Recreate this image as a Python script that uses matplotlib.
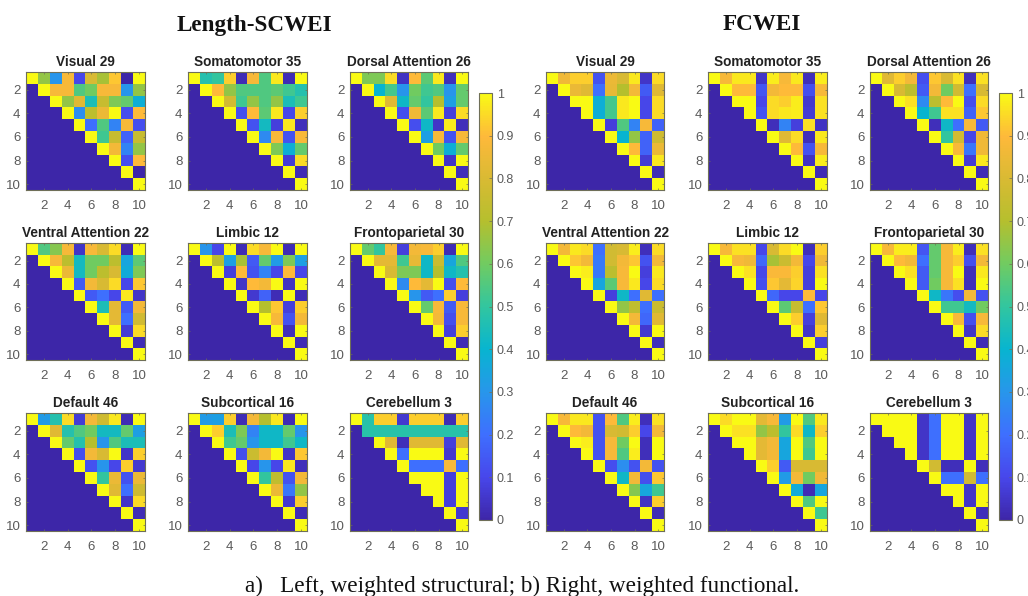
import numpy as np
import matplotlib
matplotlib.use("Agg")
import matplotlib.pyplot as plt
from matplotlib.colors import LinearSegmentedColormap, Normalize
from matplotlib.cm import ScalarMappable

parula_colors = [(0.2422,0.1504,0.6603),(0.2803,0.2782,0.9221),(0.2440,0.4358,0.9988),
                 (0.1540,0.5902,0.9218),(0.0297,0.7082,0.8163),(0.1938,0.7758,0.6251),
                 (0.4420,0.7980,0.3800),(0.7100,0.7500,0.1800),(0.8500,0.7300,0.2000),
                 (0.9970,0.7250,0.2300),(0.9769,0.9839,0.0805)]
parula = LinearSegmentedColormap.from_list("parula", parula_colors)

titles = ["Visual 29","Somatomotor 35","Dorsal Attention 26","Ventral Attention 22","Limbic 12",
          "Frontoparietal 30","Default 46","Subcortical 16","Cerebellum 3"]
ticks = [2,4,6,8,10]
cbar_ticks = [0,.1,.2,.3,.4,.5,.6,.7,.8,.9,1]
cbar_labels = ["0","0.1","0.2","0.3","0.4","0.5","0.6","0.7","0.8","0.9","1"]

# Upper triangles, each row starting at the diagonal
L_visual = [[1,.65,.3,.88,.1,.8,.68,.92,0,1],[1,.88,.88,.55,.6,.88,.88,.3,.65],[1,.65,.82,.45,.75,.62,.58,.38],
 [1,.28,.72,.85,1,.12,.9],[1,.2,.55,.25,.88,.12],[1,.52,.75,.17,.75],[1,.87,.25,.65],[1,.12,.9],[1,0],[1]]
L_somato = [[1,.47,.5,.93,.02,.88,.55,.97,.02,1],[1,.9,.65,.55,.55,.55,.57,.52,.47],[1,.78,.52,.65,.55,.65,.45,.52],
 [1,.12,.9,.57,.97,.1,.93],[1,.13,.43,.08,.97,.03],[1,.27,.88,.13,.88],[1,.62,.38,.58],[1,.07,.95],[1,.02],[1]]
L_dorsal = [[1,.62,.62,.95,.04,.9,.57,.97,.03,1],[1,.4,.53,.3,.6,.52,.55,.3,.58],[1,.82,.42,.58,.5,.7,.33,.58],
 [1,.12,.86,.57,.97,.08,.95],[1,.12,.42,.05,.98,.03],[1,.33,.88,.13,.88],[1,.6,.38,.58],[1,.05,1],[1,.03],[1]]
L_ventral = [[1,.55,.63,.88,.05,.88,.8,.95,.02,1],[1,.88,.72,.43,.6,.6,.72,.35,.57],[1,.85,.43,.6,.72,.8,.37,.62],
 [1,.15,.87,.8,.95,.1,.92],[1,.15,.2,.1,.97,.05],[1,.45,.83,.15,.87],[1,.83,.2,.78],[1,.07,.95],[1,.02],[1]]
L_limbic = [[1,.3,.1,1,.02,.95,.88,1,.02,1],[1,.72,.33,.68,.15,.58,.32,.62,.33],[1,.08,.9,.13,.25,.1,.9,.1],
 [1,.05,.9,.87,1,.04,1],[1,.06,.17,.02,1,.02],[1,.7,.92,.08,.93],[1,.88,.13,.87],[1,.03,1],[1,.02],[1]]
L_fronto = [[1,.58,.5,.88,.08,.87,.88,.93,.02,1],[1,.83,.83,.52,.84,.42,.76,.35,.55],[1,.8,.62,.62,.42,.7,.42,.47],
 [1,.27,.9,.83,1,.12,.9],[1,.3,.15,.2,.93,.08],[1,.58,.88,.15,.88],[1,.87,.12,.88],[1,.08,.93],[1,.02],[1]]
L_default = [[1,.32,.47,.95,.07,.87,.77,.97,.02,1],[1,.82,.47,.55,.6,.43,.43,.58,.33],[1,.58,.47,.7,.3,.55,.45,.45],
 [1,.12,.87,.8,1,.05,.93],[1,.13,.3,.1,.93,.06],[1,.5,.85,.13,.85],[1,.82,.2,.77],[1,.05,.95],[1,.02],[1]]
L_subcort = [[1,.32,.33,.93,.02,.87,.7,.97,.02,1],[1,.93,.45,.62,.25,.42,.42,.58,.3],[1,.52,.58,.3,.42,.42,.52,.42],
 [1,.12,.76,.87,1,.05,.92],[1,.1,.3,.1,.97,.03],[1,.5,.73,.13,.87],[1,.85,.22,.65],[1,.06,.93],[1,.02],[1]]
L_cereb = [[1,.48,.93,.93,.06,.93,.93,.93,.02,.93],[.48,.48,.48,.48,.48,.48,.48,.48,.48],[1,.82,.03,.82,.82,.82,.08,.82],
 [1,.2,1,1,1,.06,1],[1,.2,.2,.2,.88,.2],[1,1,1,.08,1],[1,1,.08,1],[1,.08,1],[1,.06],[1]]

R_visual = [[1,.86,.93,.93,.13,.85,.8,.97,.05,.95],[1,.85,.82,.2,.84,.7,.87,.15,.82],[1,1,.38,.53,.97,1,.1,.95],
 [1,.38,.53,.97,1,.1,.95],[1,.08,.55,.25,.88,.17],[1,.4,.65,.17,.77],[1,.9,.17,.85],[1,.07,.97],[1,.02],[1]]
R_somato = [[1,.88,.97,.97,.05,.98,.88,.97,.03,.98],[1,.9,.9,.14,.87,.9,.9,.12,.88],[1,1,.1,.95,.93,.98,.06,.96],
 [1,.13,.95,.97,.98,.07,.96],[1,.03,.25,.08,.96,.04],[1,.82,.95,.03,.97],[1,.9,.13,.88],[1,.04,.98],[1,.02],[1]]
R_dorsal = [[1,.82,.93,.87,.12,.92,.8,.96,.03,.96],[1,.8,.72,.15,.87,.6,.78,.2,.8],[1,.96,.27,.72,.9,1,.12,.95],
 [1,.4,.52,.96,.96,.17,.92],[1,.03,.42,.2,.88,.15],[1,.5,.78,.1,.86],[1,.88,.22,.86],[1,.07,.97],[1,.02],[1]]
R_ventral = [[1,.87,.97,.95,.2,.78,.8,.98,.03,.95],[1,.92,.87,.23,.78,.87,.92,.13,.87],[1,.98,.23,.72,.88,1,.08,.97],
 [1,.35,.57,.88,.97,.1,.95],[1,.08,.42,.2,.82,.2],[1,.65,.73,.2,.76],[1,.87,.18,.82],[1,.06,1],[1,.03],[1]]
R_limbic = [[1,.88,.96,.96,.1,.8,.95,1,.03,.93],[1,.88,.86,.18,.68,.76,.87,.1,.86],[1,.96,.1,.89,.89,.93,.08,.96],
 [1,.12,.92,.83,.94,.08,1],[1,.18,.1,.1,.9,.1],[1,.57,.75,.2,.92],[1,.93,.08,.82],[1,.05,.93],[1,.08],[1]]
R_fronto = [[1,.88,.98,.98,.14,.58,.88,.98,.03,.96],[1,.9,.87,.2,.58,.88,.93,.12,.87],[1,.96,.15,.58,.88,1,.03,.97],
 [1,.15,.6,.88,.96,.03,1],[1,.42,.22,.12,.87,.13],[1,.52,.52,.43,.6],[1,.88,.12,.88],[1,.05,.95],[1,.02],[1]]
R_default = [[1,.88,.97,.97,.13,.9,.55,.98,.03,.96],[1,.9,.87,.13,.8,.78,.93,.1,.87],[1,.98,.13,.88,.6,1,.03,1],
 [1,.13,.88,.55,.98,.03,1],[1,.12,.28,.13,.87,.13],[1,.42,.87,.12,.92],[1,.63,.35,.52],[1,.04,.93],[1,.02],[1]]
R_subcort = [[1,.95,1,1,.83,.88,.32,1,.55,.97],[1,.96,.96,.65,.72,.5,.95,.42,.93],[1,1,.83,.87,.35,1,.55,1],
 [1,.83,.87,.35,1,.52,1],[1,.93,.15,.8,.8,.8],[1,.32,.87,.6,.86],[1,.37,.02,.35],[1,.55,1],[1,.52],[1]]
R_cereb = [[1,1,1,1,.05,.2,1,1,.05,1],[1,1,1,.05,.2,1,1,.05,1],[1,1,.05,.2,1,1,.05,1],
 [1,.05,.2,1,1,.05,1],[1,.78,.03,.03,1,.03],[1,.2,.2,.78,.2],[1,1,.05,1],[1,.05,1],[1,.03],[1]]

left_panels = [L_visual,L_somato,L_dorsal,L_ventral,L_limbic,L_fronto,L_default,L_subcort,L_cereb]
right_panels = [R_visual,R_somato,R_dorsal,R_ventral,R_limbic,R_fronto,R_default,R_subcort,R_cereb]

W, H = 1028, 596
FRAME = "#6f6f58"
TEXT = "#5a5a5a"
plt.rcParams["font.family"] = ["Liberation Sans", "DejaVu Sans"]
fig = plt.figure(figsize=(W/100, H/100), dpi=100, facecolor="white")

def px_axes(x0, x1, y0, y1):
    return fig.add_axes([x0/W, 1-y1/H, (x1-x0)/W, (y1-y0)/H])

def to_matrix(rows):
    m = np.zeros((10, 10))
    for i, r in enumerate(rows):
        m[i, i:] = r
    return m

def style_frame(ax):
    for s in ax.spines.values():
        s.set_color(FRAME)
        s.set_linewidth(0.8)

y_spans = [(72,190),(243,360),(413,531)]
norm = Normalize(0, 1)
blocks = [(left_panels, [(26,145),(188,307),(350,468)], (479,492)),
          (right_panels, [(546,664),(708,827),(870,988)], (999,1012))]
for panels, x_spans, cb in blocks:
    for k, rows in enumerate(panels):
        x0, x1 = x_spans[k % 3]
        y0, y1 = y_spans[k // 3]
        ax = px_axes(x0, x1, y0, y1)
        ax.imshow(to_matrix(rows), cmap=parula, norm=norm, aspect="auto",
                  interpolation="nearest", extent=(0.5,10.5,10.5,0.5))
        ax.set_xticks(ticks)
        ax.set_yticks(ticks)
        ax.tick_params(direction="in", length=1.5, width=0.5, color=FRAME,
                       labelsize=9.5, labelcolor=TEXT, pad=7)
        ax.tick_params(axis="y", pad=4)
        ax.xaxis.set_ticks_position("both")
        ax.yaxis.set_ticks_position("both")
        ax.set_title(titles[k], fontsize=9.8, fontweight="bold", color="#222222", pad=4)
        style_frame(ax)
    cax = px_axes(cb[0], cb[1], 93, 520)
    cbar = fig.colorbar(ScalarMappable(norm=norm, cmap=parula), cax=cax)
    cbar.set_ticks(cbar_ticks)
    cbar.set_ticklabels(cbar_labels)
    cbar.ax.tick_params(direction="in", length=2, width=0.5, color=FRAME,
                        labelsize=9, labelcolor=TEXT, pad=3.5)
    cbar.outline.set_edgecolor(FRAME)
    cbar.outline.set_linewidth(0.8)

serif = ["Liberation Serif", "DejaVu Serif"]
fig.text(254/W, 1-25/H, "Length-SCWEI", family=serif, fontweight="bold", fontsize=16.7,
         ha="center", va="center", color="#111111")
fig.text(762/W, 1-25/H, "FCWEI", family=serif, fontweight="bold", fontsize=16.7,
         ha="center", va="center", color="#111111")
fig.text(522/W, 1-586/H, "a)   Left, weighted structural; b) Right, weighted functional.",
         family=serif, fontsize=16.7, ha="center", va="center", color="#111111")
fig.savefig("out.png", dpi=100)
